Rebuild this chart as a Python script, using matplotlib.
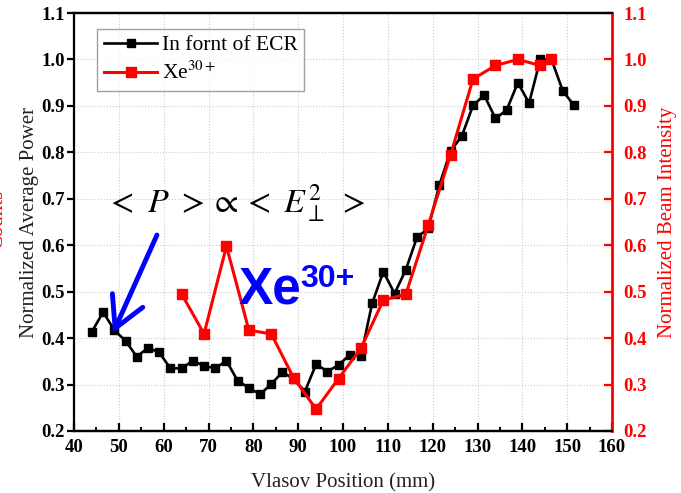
import numpy as np
import matplotlib
matplotlib.use("Agg")
from matplotlib import pyplot as plt
from matplotlib.ticker import MultipleLocator, FormatStrFormatter

plt.rcParams['font.family'] = ['Liberation Serif', 'DejaVu Serif']
plt.rcParams['mathtext.fontset'] = 'stix'

# power in front of the ECR (left axis)
pos_power = [44, 46.5, 49, 51.5, 54, 56.5, 59, 61.5, 64, 66.5, 69, 71.5, 74, 76.5,
             79, 81.5, 84, 86.5, 89, 91.5, 94, 96.5, 99, 101.5, 104, 106.5, 109,
             111.5, 114, 116.5, 119, 121.5, 124, 126.5, 129, 131.5, 134, 136.5,
             139, 141.5, 144, 146.5, 149, 151.5]
power = [0.414, 0.456, 0.417, 0.394, 0.360, 0.379, 0.369, 0.335, 0.335, 0.351,
         0.340, 0.335, 0.351, 0.308, 0.293, 0.279, 0.301, 0.327, 0.312, 0.285,
         0.344, 0.328, 0.342, 0.364, 0.362, 0.475, 0.543, 0.496, 0.547, 0.617,
         0.636, 0.730, 0.803, 0.835, 0.901, 0.923, 0.873, 0.891, 0.950, 0.906,
         1.000, 1.000, 0.933, 0.901]

# Xe30+ beam intensity (right axis)
pos_beam = [64, 69, 74, 79, 84, 89, 94, 99, 104, 109, 114, 119, 124, 129, 134,
            139, 144, 146.5]
beam = [0.495, 0.409, 0.598, 0.417, 0.409, 0.314, 0.247, 0.313, 0.378, 0.482,
        0.494, 0.643, 0.795, 0.958, 0.987, 1.000, 0.987, 1.000]

fig = plt.figure(figsize=(6.81, 4.93), dpi=100)
ax = fig.add_axes([0.1087, 0.1258, 0.79, 0.8478])
ax2 = ax.twinx()

l1, = ax.plot(pos_power, power, '-s', color='black', lw=1.9, ms=6,
              label='In fornt of ECR')
l2, = ax2.plot(pos_beam, beam, '-s', color='red', lw=2.2, ms=7.5,
               label=r'Xe$^{30+}$')

for a in (ax, ax2):
    a.set_xlim(40, 160)
    a.set_ylim(0.2, 1.1)
    a.yaxis.set_major_locator(MultipleLocator(0.1))
    a.yaxis.set_major_formatter(FormatStrFormatter('%.1f'))
    for s in a.spines.values():
        s.set_linewidth(1.6)

ax.xaxis.set_major_locator(MultipleLocator(10))
ax.xaxis.set_minor_locator(MultipleLocator(5))
ax.grid(True, which='major', ls=':', color='#cccccc', lw=0.8)
ax.tick_params(axis='x', which='major', direction='in', length=6, width=1.6,
               labelsize=13.5, pad=6)
ax.tick_params(axis='x', which='minor', direction='in', length=3, width=1.4)
ax.tick_params(axis='y', direction='out', length=5, width=1.6, labelsize=13.5,
               pad=1.5)
ax.spines['right'].set_visible(False)
for lab in ax.get_xticklabels() + ax.get_yticklabels():
    lab.set_fontweight('bold')

ax2.spines['left'].set_visible(False)
ax2.spines['right'].set_color('red')
ax2.spines['right'].set_linewidth(2)
ax2.tick_params(axis='y', direction='in', length=6, width=1.6, colors='red',
                labelsize=13.5, pad=8)
for lab in ax2.get_yticklabels():
    lab.set_fontweight('bold')

ax.set_xlabel('Vlasov Position (mm)', fontsize=15, color='#222222', labelpad=12)
ax.set_ylabel('Normalized Average Power', fontsize=15, color='#222222', labelpad=2)
ax2.set_ylabel('Normalized Beam Intensity', fontsize=15, color='red', labelpad=8)

# leftover label clipped at the figure edge
fig.text(-0.004, 0.555, 'Counts', rotation=90, color='red', fontsize=15,
         ha='center', va='center')

leg = ax.legend([l1, l2], [l1.get_label(), l2.get_label()], loc='upper left',
                bbox_to_anchor=(0.043, 0.962), borderaxespad=0, fontsize=15.5,
                frameon=True, fancybox=False, edgecolor='#888888',
                handlelength=2.5, handletextpad=0.2, borderpad=0.3,
                labelspacing=0.3)
leg.get_frame().set_linewidth(1.0)
leg.set_zorder(10)

ax.text(0.0595, 0.5215, r'$<\ P\ >\propto<\ E_{\perp}^{2}\ >$',
        transform=ax.transAxes, fontsize=24.5, va='baseline', ha='left', zorder=6)

ax.annotate('', xy=(48.7, 0.411), xytext=(58.5, 0.622),
            arrowprops=dict(arrowstyle='->,head_length=0.55,head_width=0.3',
                            color='blue', lw=3.5, mutation_scale=40,
                            shrinkA=0, shrinkB=0),
            zorder=6)

ax2.text(0.305, 0.306, 'Xe', transform=ax.transAxes, fontsize=37,
         family='Liberation Sans', weight='bold', color='blue', va='baseline')
ax2.text(0.42, 0.344, '30+', transform=ax.transAxes, fontsize=23,
         family='Liberation Sans', weight='bold', color='blue', va='baseline')

fig.savefig('out.png', dpi=100)
